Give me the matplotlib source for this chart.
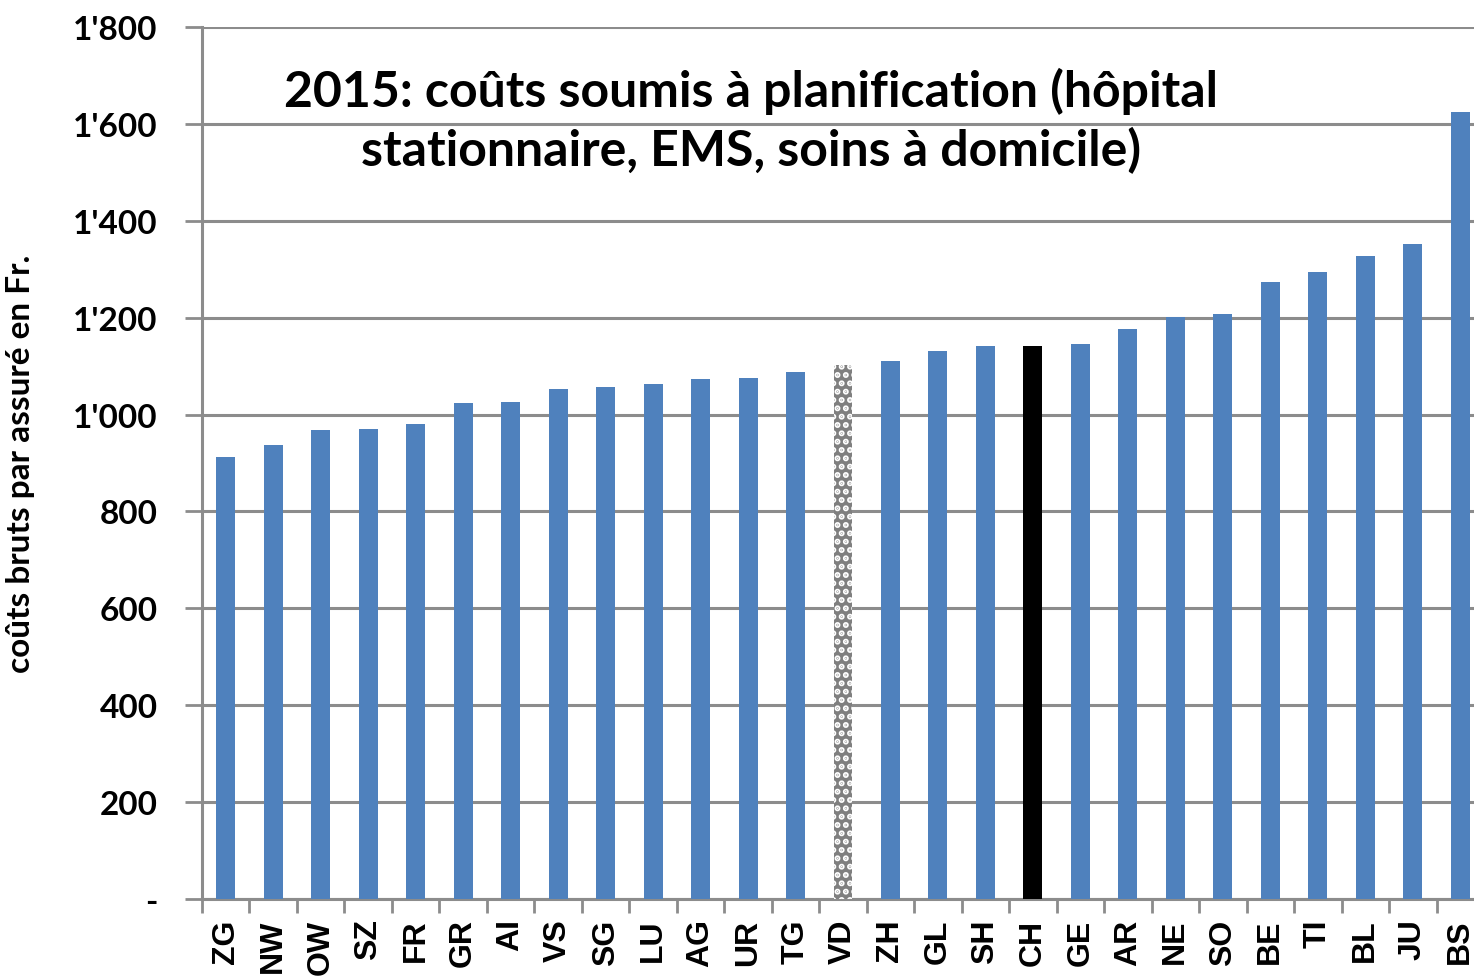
import numpy as np
import matplotlib
matplotlib.use("Agg")
from matplotlib import pyplot as plt
from matplotlib.ticker import FuncFormatter

cantons = ["ZG", "NW", "OW", "SZ", "FR", "GR", "AI", "VS", "SG", "LU", "AG", "UR", "TG",
           "VD", "ZH", "GL", "SH", "CH", "GE", "AR", "NE", "SO", "BE", "TI", "BL", "JU", "BS"]
costs = [912, 937, 968, 970, 981, 1024, 1026, 1053, 1057, 1063, 1074, 1076, 1088,
         1102, 1111, 1131, 1142, 1142, 1146, 1177, 1201, 1208, 1274, 1294, 1327, 1352, 1625]
title = "2015: coûts soumis à planification (hôpital\nstationnaire, EMS, soins à domicile)"
ylabel = "coûts bruts par assuré en Fr."

BLUE = "#4F81BD"
GRID = "#8c8c8c"

plt.rcParams["hatch.linewidth"] = 3.0

fig = plt.figure(figsize=(14.74, 9.78), dpi=100)
ax = fig.add_axes([202 / 1474, 78 / 978, 1282 / 1474, 872 / 978])

x = np.arange(len(cantons))
bars = ax.bar(x, costs, width=0.4, color=BLUE, zorder=3)

# VD dotted grey, CH black
vd = bars[cantons.index("VD")]
vd.set_facecolor("#7f7f7f")
vd.set_edgecolor("white")
vd.set_linewidth(0)
vd.set_hatch("..")
bars[cantons.index("CH")].set_facecolor("black")

ax.set_xlim(-0.5, len(cantons) - 0.5)
ax.set_ylim(0, 1800)
ax.set_yticks(np.arange(0, 1801, 200))


def fmt(v, pos):
    if v == 0:
        return "-"
    return "{:,.0f}".format(v).replace(",", "'")


ax.yaxis.set_major_formatter(FuncFormatter(fmt))
ax.grid(axis="y", color=GRID, linewidth=2.2, zorder=0)

ax.set_xticks(x)
ax.set_xticklabels(cantons, rotation=90, fontsize=23, fontweight="bold",
                   family="Liberation Sans", va="top")
ax.set_xticks(np.arange(-0.5, len(cantons), 1), minor=True)
ax.tick_params(axis="x", which="major", length=0, pad=14)
ax.tick_params(axis="x", which="minor", length=10, width=2, color=GRID, direction="out")
ax.tick_params(axis="y", length=12, width=2, color=GRID, direction="out", pad=20)
for lbl in ax.get_yticklabels():
    lbl.set_fontsize(24)
    lbl.set_fontweight("bold")
    lbl.set_family("Lato")

for side in ["top", "right"]:
    ax.spines[side].set_visible(False)
for side in ["left", "bottom"]:
    ax.spines[side].set_color(GRID)
    ax.spines[side].set_linewidth(2.2)

ax.set_ylabel(ylabel, fontsize=24, fontweight="bold", family="Lato")
ax.yaxis.set_label_coords(-0.13, 0.5)

ax.text(0.428, 0.893, title, transform=ax.transAxes, ha="center", va="center",
        fontsize=36, fontweight="bold", family="Lato", linespacing=1.3, zorder=5)

fig.savefig("out.png", dpi=100)
